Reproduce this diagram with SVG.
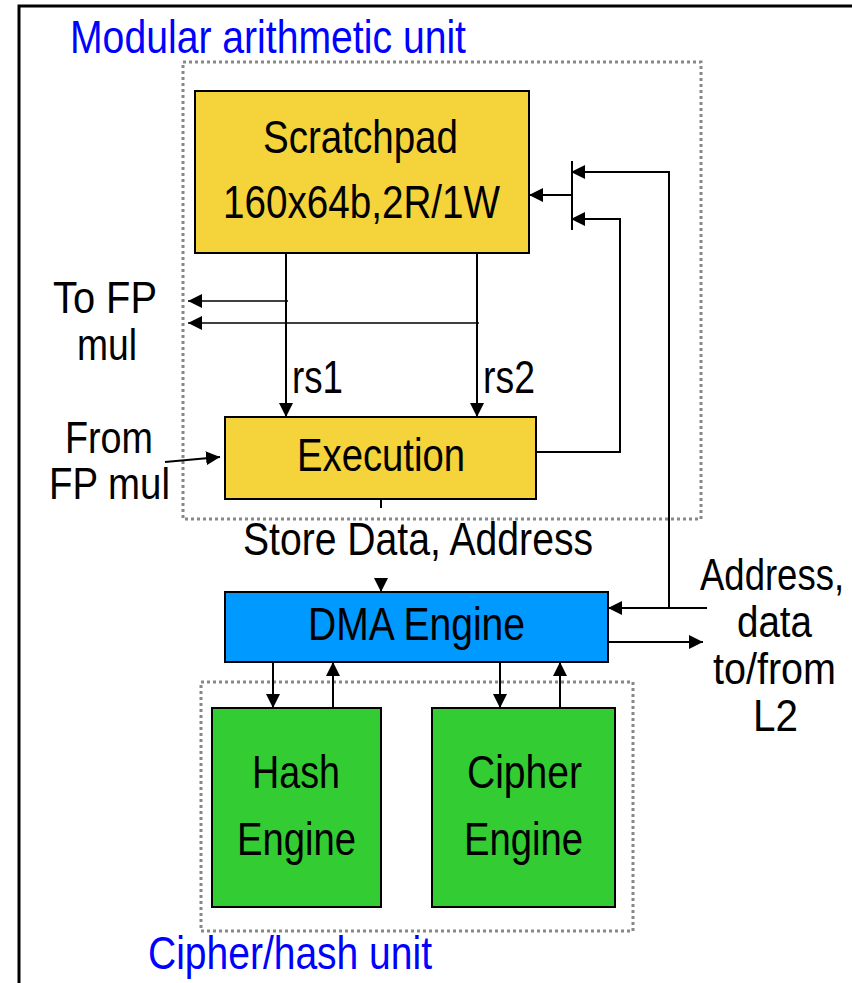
<svg xmlns="http://www.w3.org/2000/svg" width="852" height="983" viewBox="0 0 852 983">
  <style>
    text { font-family: "Liberation Sans", Arial, sans-serif; font-size: 47px; fill: #000; }
    .small { font-size: 44px; }
    .unit { fill: #0000ff; }
    .frame { stroke: #000; stroke-width: 3; fill: none; }
    .dotted { stroke: #888; stroke-width: 3; stroke-dasharray: 3 3; fill: none; }
    .box { stroke: #000; stroke-width: 2; }
    .yellow { fill: #f5d33a; }
    .blue { fill: #0099ff; }
    .green { fill: #33cc33; }
    .wire { stroke: #000; stroke-width: 2; fill: none; }
    .thin { stroke: #000; stroke-width: 1.5; fill: none; }
  </style>
  <defs>
    <marker id="arrow" markerUnits="userSpaceOnUse" markerWidth="14" markerHeight="14" viewBox="0 0 14 14" refX="14" refY="7" orient="auto">
      <path d="M0,0 L14,7 L0,14 Z" fill="#000"/>
    </marker>
  </defs>

  <rect width="852" height="983" fill="#fff"/>

  <!-- outer frame -->
  <path class="frame" d="M19,983 V6 H852"/>

  <!-- unit outlines -->
  <g id="modular-unit">
    <rect class="dotted" x="183" y="62" width="518" height="457"/>
    <text class="unit" x="70" y="53" textLength="396" lengthAdjust="spacingAndGlyphs">Modular arithmetic unit</text>
  </g>
  <g id="cipher-unit">
    <rect class="dotted" x="201" y="682" width="432" height="249"/>
    <text class="unit" x="148" y="969" textLength="284" lengthAdjust="spacingAndGlyphs">Cipher/hash unit</text>
  </g>

  <!-- nodes -->
  <g id="scratchpad">
    <rect class="box yellow" x="195" y="91" width="334" height="162"/>
    <text x="263" y="153" textLength="195" lengthAdjust="spacingAndGlyphs">Scratchpad</text>
    <text x="223" y="218" textLength="277" lengthAdjust="spacingAndGlyphs">160x64b,2R/1W</text>
  </g>
  <g id="execution">
    <rect class="box yellow" x="225" y="417" width="311" height="82"/>
    <text x="297" y="471" textLength="168" lengthAdjust="spacingAndGlyphs">Execution</text>
  </g>
  <g id="dma">
    <rect class="box blue" x="225" y="592" width="383" height="70"/>
    <text x="308" y="640" textLength="217" lengthAdjust="spacingAndGlyphs">DMA Engine</text>
  </g>
  <g id="hash">
    <rect class="box green" x="212" y="708" width="169" height="199"/>
    <text x="252" y="788" textLength="88" lengthAdjust="spacingAndGlyphs">Hash</text>
    <text x="237" y="855" textLength="119" lengthAdjust="spacingAndGlyphs">Engine</text>
  </g>
  <g id="cipher">
    <rect class="box green" x="432" y="708" width="183" height="199"/>
    <text x="467" y="788" textLength="115" lengthAdjust="spacingAndGlyphs">Cipher</text>
    <text x="464" y="855" textLength="119" lengthAdjust="spacingAndGlyphs">Engine</text>
  </g>

  <!-- labels -->
  <g id="labels">
    <text class="small" x="53" y="313" textLength="104" lengthAdjust="spacingAndGlyphs">To FP</text>
    <text class="small" x="77" y="360" textLength="60" lengthAdjust="spacingAndGlyphs">mul</text>
    <text class="small" x="65" y="453" textLength="88" lengthAdjust="spacingAndGlyphs">From</text>
    <text class="small" x="49" y="499" textLength="121" lengthAdjust="spacingAndGlyphs">FP mul</text>
    <text x="292" y="393" textLength="51" lengthAdjust="spacingAndGlyphs">rs1</text>
    <text x="483" y="393" textLength="52" lengthAdjust="spacingAndGlyphs">rs2</text>
    <text x="243" y="555" textLength="350" lengthAdjust="spacingAndGlyphs">Store Data, Address</text>
    <text class="small" transform="translate(700,590) scale(0.83,1)">Address,</text>
    <text class="small" x="737" y="637" textLength="75" lengthAdjust="spacingAndGlyphs">data</text>
    <text class="small" x="713" y="684" textLength="123" lengthAdjust="spacingAndGlyphs">to/from</text>
    <text class="small" x="753" y="731" textLength="45" lengthAdjust="spacingAndGlyphs">L2</text>
  </g>

  <!-- connectors -->
  <g id="connectors">
    <!-- write port mux into scratchpad -->
    <path class="wire" d="M572,161 V230"/>
    <path class="wire" d="M572,195 H529" marker-end="url(#arrow)"/>
    <path class="wire" d="M669,608 V172 H571" marker-end="url(#arrow)"/>
    <path class="wire" d="M536,452 H620 V219 H571" marker-end="url(#arrow)"/>
    <!-- read ports -->
    <path class="wire" d="M286,253 V417" marker-end="url(#arrow)"/>
    <path class="wire" d="M477,253 V417" marker-end="url(#arrow)"/>
    <!-- to FP mul -->
    <path class="thin" d="M288,301 H188" marker-end="url(#arrow)"/>
    <path class="thin" d="M479,323 H188" marker-end="url(#arrow)"/>
    <!-- from FP mul -->
    <path class="wire" d="M165,462 L220,457" marker-end="url(#arrow)"/>
    <!-- store data / address -->
    <path class="wire" d="M381,499 V508"/>
    <path class="wire" d="M381,578 V592" marker-end="url(#arrow)"/>
    <!-- L2 interface -->
    <path class="wire" d="M707,608 H608" marker-end="url(#arrow)"/>
    <path class="wire" d="M608,642 H703" marker-end="url(#arrow)"/>
    <!-- DMA to engines -->
    <path class="wire" d="M273,662 V708" marker-end="url(#arrow)"/>
    <path class="wire" d="M333,708 V662" marker-end="url(#arrow)"/>
    <path class="wire" d="M500,662 V708" marker-end="url(#arrow)"/>
    <path class="wire" d="M560,708 V662" marker-end="url(#arrow)"/>
  </g>
</svg>
